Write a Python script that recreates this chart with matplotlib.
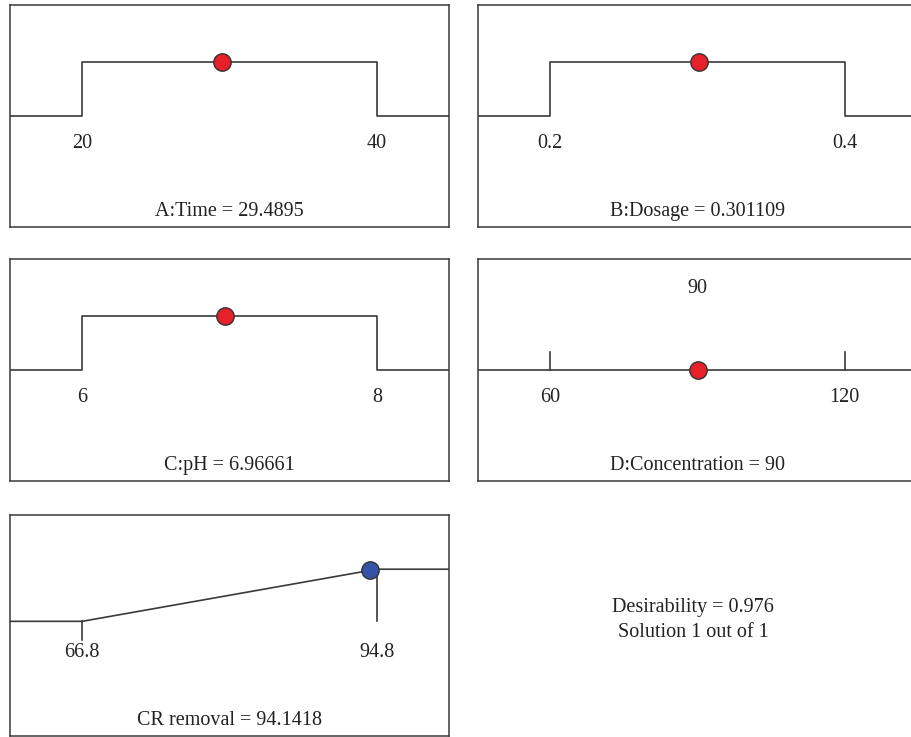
import matplotlib
matplotlib.use("Agg")
import matplotlib.pyplot as plt
import matplotlib.transforms as mtransforms

plt.rcParams['font.family'] = ['Liberation Serif', 'DejaVu Serif']

# factor ranges (low, high) and the optimum setting
factor_names = ["A:Time", "B:Dosage", "C:pH", "D:Concentration"]
factor_low = [20, 0.2, 6, 60]
factor_high = [40, 0.4, 8, 120]
factor_value = [29.4895, 0.301109, 6.96661, 90]
factor_labels = [("20", "40"), ("0.2", "0.4"), ("6", "8"), ("60", "120")]
factor_value_text = ["29.4895", "0.301109", "6.96661", "90"]
factor_is_range = [True, True, True, False]

# response
resp_name = "CR removal"
resp_low = 66.8
resp_high = 94.8
resp_value = 94.1418
resp_labels = ("66.8", "94.8")
resp_value_text = "94.1418"
desirability = 0.976
solution_text = "Solution 1 out of 1"

LINE = "#3a3a3a"
RED = "#e8202a"
BLUE = "#3553a6"
TXT = "#222222"
FS = 14.5

W, H = 911, 737
fig = plt.figure(figsize=(W / 100, H / 100), dpi=100)


def make_ax(left, top, width, height):
    ax = fig.add_axes([left / W, 1 - (top + height) / H, width / W, height / H])
    ax.set_xticks([])
    ax.set_yticks([])
    for s in ax.spines.values():
        s.set_color(LINE)
        s.set_linewidth(1.1)
    return ax


def set_xrange(ax, lo, hi):
    r = hi - lo
    ax.set_xlim(lo - 0.245 * r, hi + 0.245 * r)
    return lo - 0.245 * r, hi + 0.245 * r


# panel positions in pixels (left, top)
pos = [(10, 5), (478, 5), (10, 259), (478, 259)]
pw, ph = 439, 222

for i in range(4):
    ax = make_ax(pos[i][0], pos[i][1], pw, ph)
    lo, hi = factor_low[i], factor_high[i]
    x0, x1 = set_xrange(ax, lo, hi)
    ax.set_ylim(-2.06, 2.06)
    tr = mtransforms.blended_transform_factory(ax.transData, ax.transAxes)
    if factor_is_range[i]:
        ax.plot([x0, lo, lo, hi, hi, x1], [0, 0, 1, 1, 0, 0], color=LINE, lw=1.2)
        ax.plot(factor_value[i], 1, "o", ms=12.5, mfc=RED, mec="#333333", mew=1.0, zorder=5)
    else:
        ax.plot([x0, x1], [0, 0], color=LINE, lw=1.2)
        ax.plot([lo, lo], [0, 0.33], color=LINE, lw=1.2)
        ax.plot([hi, hi], [0, 0.33], color=LINE, lw=1.2)
        ax.plot(factor_value[i], 0, "o", ms=12.5, mfc=RED, mec="#333333", mew=1.0, zorder=5)
        ax.text(factor_value[i], 0.869, factor_value_text[i], transform=tr,
                ha="center", va="center", fontsize=FS, color=TXT)
    ax.text(lo, 0.378, factor_labels[i][0], transform=tr, ha="center", va="center",
            fontsize=FS, color=TXT)
    ax.text(hi, 0.378, factor_labels[i][1], transform=tr, ha="center", va="center",
            fontsize=FS, color=TXT)
    ax.text(0.5, 0.068, f"{factor_names[i]} = {factor_value_text[i]}", transform=ax.transAxes,
            ha="center", va="center", fontsize=FS, color=TXT)

# response panel
ax = make_ax(10, 515, pw, 221)
x0, x1 = set_xrange(ax, resp_low, resp_high)
ax.set_ylim(-2.2, 2.04)
tr = mtransforms.blended_transform_factory(ax.transData, ax.transAxes)
ax.plot([x0, resp_low, resp_high, x1], [0, 0, 1, 1], color=LINE, lw=1.2)
ax.plot([resp_low, resp_low], [0, -0.36], color=LINE, lw=1.2)
ax.plot([resp_high, resp_high], [0, 1], color=LINE, lw=1.2)
ax.plot(resp_value, desirability, "o", ms=12.5, mfc=BLUE, mec="#333333", mew=1.0, zorder=5)
ax.text(resp_low, 0.378, resp_labels[0], transform=tr, ha="center", va="center",
        fontsize=FS, color=TXT)
ax.text(resp_high, 0.378, resp_labels[1], transform=tr, ha="center", va="center",
        fontsize=FS, color=TXT)
ax.text(0.5, 0.068, f"{resp_name} = {resp_value_text}", transform=ax.transAxes,
        ha="center", va="center", fontsize=FS, color=TXT)

fig.text(693 / W, 1 - 620 / H, f"Desirability = {desirability}\n{solution_text}",
         ha="center", va="center", fontsize=FS, color=TXT, linespacing=1.45)

fig.savefig("out.png", dpi=100)
